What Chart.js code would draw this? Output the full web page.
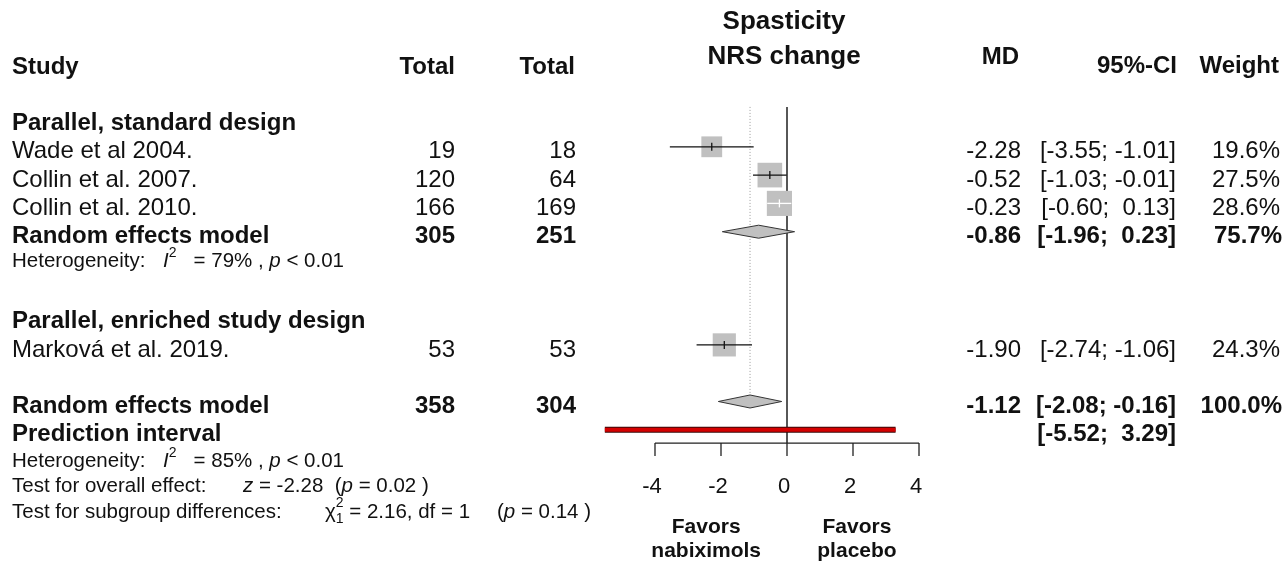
<!DOCTYPE html>
<html>
<head>
<meta charset="utf-8">
<script src="https://cdn.jsdelivr.net/npm/chart.js"></script>
<style>
  body { margin: 0; background: #fff; }
  #wrap { width: 1283px; height: 563px; position: relative; }
</style>
</head>
<body>
<div id="wrap"><canvas id="forest"></canvas></div>
<script>
// Dati degli studi
const studies = ['Wade et al 2004.', 'Collin et al. 2007.', 'Collin et al. 2010.', 'Marková et al. 2019.'];
const studyRows = [1, 2, 3, 8];
const totalNab = [19, 120, 166, 53];
const totalPla = [18, 64, 169, 53];
const md = [-2.28, -0.52, -0.23, -1.90];
const ciLow = [-3.55, -1.03, -0.60, -2.74];
const ciHigh = [-1.01, -0.01, 0.13, -1.06];
const weights = [19.6, 27.5, 28.6, 24.3];

// Sottogruppi
const groups = ['Parallel, standard design', 'Parallel, enriched study design'];
const groupRows = [0, 7];

// Modelli a effetti casuali (sottogruppo + totale)
const poolRows = [4, 10];
const poolNab = [305, 358];
const poolPla = [251, 304];
const poolMd = [-0.86, -1.12];
const poolLow = [-1.96, -2.08];
const poolHigh = [0.23, -0.16];
const poolWeight = [75.7, 100.0];

// Intervallo di predizione
const predRow = 11;
const predLow = -5.52;
const predHigh = 3.29;

// Asse
const axisTicks = [-4, -2, 0, 2, 4];

const FONT = '"Liberation Sans", Arial, sans-serif';
const f = (size, style) => (style ? style + ' ' : '') + size + 'px ' + FONT;

// lato del quadrato in pixel in base al peso
const squareSide = w => 4.7 * Math.sqrt(w);

function fmtCI(lo, hi) {
    return '[' + lo.toFixed(2) + '; ' + hi.toFixed(2).padStart(5, ' ') + ']';
}

// Dataset
const datasets = [];

// linea di riferimento a 0
datasets.push({
    data: [{ x: 0, y: -0.41 }, { x: 0, y: 11.47 }],
    borderColor: '#111', borderWidth: 1.4, pointRadius: 0, order: 20
});
// linea tratteggiata sull'effetto complessivo
datasets.push({
    data: [{ x: poolMd[1], y: -0.41 }, { x: poolMd[1], y: poolRows[1] }],
    borderColor: '#9a9a9a', borderWidth: 1, borderDash: [1, 2], pointRadius: 0, order: 19
});

// intervalli di confidenza
studies.forEach((s, i) => {
    const side = squareSide(weights[i]);
    const inside = ctx => {
        const sx = ctx.chart.scales.x;
        return (sx.getPixelForValue(ciHigh[i]) - sx.getPixelForValue(ciLow[i])) < side ? '#fff' : '#111';
    };
    datasets.push({
        data: [{ x: ciLow[i], y: studyRows[i] }, { x: ciHigh[i], y: studyRows[i] }],
        borderColor: inside, borderWidth: 1.3, pointRadius: 0, order: 2
    });
    datasets.push({
        data: [{ x: md[i], y: studyRows[i] }],
        showLine: false, pointStyle: 'line', rotation: 90, pointRadius: 4,
        borderColor: inside, borderWidth: 1.3, order: 1
    });
});

// quadrati
datasets.push({
    data: md.map((m, i) => ({ x: m, y: studyRows[i] })),
    showLine: false,
    pointStyle: 'rect',
    pointRadius: weights.map(w => squareSide(w) / Math.SQRT2),
    backgroundColor: '#c0c0c0',
    borderWidth: 0,
    order: 3
});

// rombi
poolMd.forEach((m, i) => {
    const r = poolRows[i];
    const h = 0.23;
    datasets.push({
        data: [
            { x: poolLow[i], y: r }, { x: m, y: r - h }, { x: poolHigh[i], y: r },
            { x: m, y: r + h }, { x: poolLow[i], y: r }
        ],
        fill: 'shape', backgroundColor: '#c0c0c0', borderColor: '#333',
        borderWidth: 1, pointRadius: 0, tension: 0, order: 4
    });
});

// intervallo di predizione (bordo scuro + rosso)
datasets.push({
    data: [{ x: predLow, y: predRow }, { x: predHigh, y: predRow }],
    borderColor: '#3a0808', borderWidth: 6, borderCapStyle: 'butt', pointRadius: 0, order: 6
});
datasets.push({
    data: [{ x: predLow, y: predRow }, { x: predHigh, y: predRow }],
    borderColor: '#d40000', borderWidth: 4, borderCapStyle: 'butt', pointRadius: 0, order: 5
});

// Funzione per scrivere testo composto (corsivo, apici, pedici)
function richText(ctx, parts, x, y) {
    let cx = x;
    parts.forEach(p => {
        ctx.font = p.f;
        ctx.fillText(p.t, cx, y + (p.dy || 0));
        if (p.adv !== false) cx += ctx.measureText(p.t).width;
    });
    return cx;
}

// Plugin per asse e tabella
const forestText = {
    id: 'forestText',
    afterDatasetsDraw(chart) {
        const ctx = chart.ctx;
        const sx = chart.scales.x;
        const sy = chart.scales.y;
        const X = v => sx.getPixelForValue(v);
        const Y = r => sy.getPixelForValue(r) + 5;

        ctx.save();
        ctx.fillStyle = '#111';
        ctx.strokeStyle = '#222';
        ctx.lineWidth = 1.3;
        ctx.textBaseline = 'middle';

        // asse x
        const ay = sy.getPixelForValue(11.47);
        const ty = sy.getPixelForValue(11.93);
        ctx.beginPath();
        ctx.moveTo(X(axisTicks[0]), ay);
        ctx.lineTo(X(axisTicks[axisTicks.length - 1]), ay);
        axisTicks.forEach(t => {
            ctx.moveTo(X(t), ay);
            ctx.lineTo(X(t), ty);
        });
        ctx.stroke();
        ctx.textAlign = 'center';
        ctx.font = f(22);
        axisTicks.forEach(t => ctx.fillText(String(t), X(t) - 3, 487));

        ctx.font = f(21, 'bold');
        ctx.fillText('Favors', X(-2.45), 527);
        ctx.fillText('nabiximols', X(-2.45), 551);
        ctx.fillText('Favors', X(2.12), 527);
        ctx.fillText('placebo', X(2.12), 551);

        // titolo
        ctx.font = f(26, 'bold');
        ctx.fillText('Spasticity', X(-0.09), 22);
        ctx.fillText('NRS change', X(-0.09), 57);

        // intestazioni
        ctx.font = f(24, 'bold');
        ctx.textAlign = 'left';
        ctx.fillText('Study', 12, 67);
        ctx.textAlign = 'right';
        ctx.fillText('Total', 455, 67);
        ctx.fillText('Total', 575, 67);
        ctx.fillText('MD', 1019, 57);
        ctx.fillText('95%-CI', 1177, 66);
        ctx.fillText('Weight', 1279, 66);

        // sottogruppi
        ctx.textAlign = 'left';
        groups.forEach((g, i) => ctx.fillText(g, 12, Y(groupRows[i])));

        // studi
        ctx.font = f(24);
        studies.forEach((s, i) => {
            const y = Y(studyRows[i]);
            ctx.textAlign = 'left';
            ctx.fillText(s, 12, y);
            ctx.textAlign = 'right';
            ctx.fillText(String(totalNab[i]), 455, y);
            ctx.fillText(String(totalPla[i]), 576, y);
            ctx.fillText(md[i].toFixed(2), 1021, y);
            ctx.fillText(fmtCI(ciLow[i], ciHigh[i]), 1176, y);
            ctx.fillText(weights[i].toFixed(1) + '%', 1280, y);
        });

        // modelli
        ctx.font = f(24, 'bold');
        poolRows.forEach((r, i) => {
            const y = Y(r);
            ctx.textAlign = 'left';
            ctx.fillText('Random effects model', 12, y);
            ctx.textAlign = 'right';
            ctx.fillText(String(poolNab[i]), 455, y);
            ctx.fillText(String(poolPla[i]), 576, y);
            ctx.fillText(poolMd[i].toFixed(2), 1021, y);
            ctx.fillText(fmtCI(poolLow[i], poolHigh[i]), 1176, y);
            ctx.fillText(poolWeight[i].toFixed(1) + '%', 1282, y);
        });
        ctx.textAlign = 'left';
        ctx.fillText('Prediction interval', 12, Y(predRow));
        ctx.textAlign = 'right';
        ctx.fillText(fmtCI(predLow, predHigh), 1176, Y(predRow));

        // statistiche
        ctx.textAlign = 'left';
        const reg = f(20.5), it = f(20.5, 'italic'), sup = f(14);
        const het = (i2, y) => {
            richText(ctx, [{ t: 'Heterogeneity:', f: reg }], 12, y);
            richText(ctx, [
                { t: 'I', f: it }, { t: '2', f: sup, dy: -8 },
                { t: '   = ' + i2 + '% , ', f: reg }, { t: 'p', f: it }, { t: ' < 0.01', f: reg }
            ], 163, y);
        };
        het(79, 261);
        het(85, 461);
        richText(ctx, [{ t: 'Test for overall effect:', f: reg }], 12, 486);
        richText(ctx, [
            { t: 'z', f: it }, { t: ' = -2.28  (', f: reg }, { t: 'p', f: it }, { t: ' = 0.02 )', f: reg }
        ], 243, 486);
        richText(ctx, [{ t: 'Test for subgroup differences:', f: reg }], 12, 512);
        richText(ctx, [
            { t: 'χ', f: reg }, { t: '2', f: sup, dy: -9, adv: false }, { t: '1', f: sup, dy: 7 },
            { t: ' = 2.16, df = 1', f: reg }
        ], 325, 512);
        richText(ctx, [{ t: '(', f: reg }, { t: 'p', f: it }, { t: ' = 0.14 )', f: reg }], 497, 512);

        ctx.restore();
    }
};

const chart = new Chart(document.getElementById('forest'), {
    type: 'line',
    data: { datasets: datasets },
    options: {
        responsive: true,
        maintainAspectRatio: false,
        animation: false,
        events: [],
        layout: { padding: 0, autoPadding: false },
        plugins: {
            legend: { display: false },
            tooltip: { enabled: false }
        },
        scales: {
            x: { type: 'linear', display: false, bounds: 'data', min: -23.848, max: 15.03 },
            y: { type: 'linear', display: false, bounds: 'data', reverse: true, min: -4.1873, max: 15.707 }
        }
    },
    plugins: [forestText]
});
</script>
</body>
</html>
